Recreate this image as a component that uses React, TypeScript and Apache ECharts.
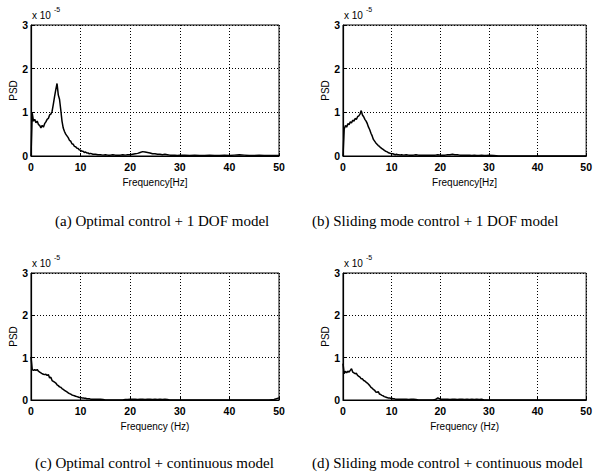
import React, { useEffect, useRef } from "react";
import * as echarts from "echarts";

// Frequency sample points (Hz): 0.25 Hz steps to 12, 0.5 Hz steps to 30, 1 Hz steps to 50
const freq: number[] = [
  0, 0.25, 0.5, 0.75, 1, 1.25, 1.5, 1.75, 2, 2.25, 2.5, 2.75, 3, 3.25, 3.5, 3.75,
  4, 4.25, 4.5, 4.75, 5, 5.25, 5.5, 5.75, 6, 6.25, 6.5, 6.75, 7, 7.25, 7.5, 7.75,
  8, 8.25, 8.5, 8.75, 9, 9.25, 9.5, 9.75, 10, 10.25, 10.5, 10.75, 11, 11.25, 11.5, 11.75, 12,
  12.5, 13, 13.5, 14, 14.5, 15, 15.5, 16, 16.5, 17, 17.5, 18, 18.5, 19, 19.5, 20,
  20.5, 21, 21.5, 22, 22.5, 23, 23.5, 24, 24.5, 25, 25.5, 26, 26.5, 27, 27.5, 28, 28.5, 29, 29.5, 30,
  31, 32, 33, 34, 35, 36, 37, 38, 39, 40, 41, 42, 43, 44, 45, 46, 47, 48, 49, 50,
];

// PSD values in units of 1e-5
const psdOptimal1DOF: number[] = [
  0, 0.98, 0.8, 0.84, 0.76, 0.8, 0.72, 0.7, 0.64, 0.7, 0.66, 0.74, 0.78, 0.84, 0.86, 0.94,
  0.96, 1.02, 1.18, 1.36, 1.52, 1.66, 1.4, 1.3, 1.06, 0.8, 0.64, 0.56, 0.5, 0.46, 0.42, 0.36,
  0.34, 0.28, 0.27, 0.22, 0.21, 0.18, 0.17, 0.14, 0.13, 0.11, 0.11, 0.08, 0.09, 0.07, 0.07, 0.05, 0.06,
  0.04, 0.04, 0.03, 0.03, 0.02, 0.03, 0.02, 0.02, 0.03, 0.02, 0.02, 0.02, 0.03, 0.02, 0.03, 0.03,
  0.04, 0.05, 0.06, 0.08, 0.1, 0.09, 0.08, 0.07, 0.05, 0.05, 0.04, 0.04, 0.03, 0.04, 0.03, 0.02, 0.02, 0.02, 0.01, 0.02,
  0.02, 0.01, 0.02, 0.01, 0.01, 0.02, 0.01, 0.01, 0.02, 0.01, 0.02, 0.03, 0.02, 0.01, 0.01, 0.02, 0.01, 0.01, 0.01, 0.01,
];

const psdSliding1DOF: number[] = [
  0, 0.62, 0.7, 0.66, 0.74, 0.72, 0.78, 0.76, 0.82, 0.8, 0.86, 0.84, 0.9, 0.92, 0.96, 1.04,
  0.94, 0.9, 0.84, 0.8, 0.74, 0.66, 0.6, 0.52, 0.46, 0.38, 0.34, 0.3, 0.27, 0.24, 0.22, 0.19,
  0.17, 0.15, 0.13, 0.11, 0.1, 0.08, 0.07, 0.06, 0.05, 0.05, 0.04, 0.03, 0.04, 0.03, 0.03, 0.02, 0.03,
  0.02, 0.03, 0.02, 0.02, 0.02, 0.03, 0.02, 0.02, 0.02, 0.02, 0.02, 0.02, 0.02, 0.02, 0.03, 0.02,
  0.02, 0.02, 0.03, 0.03, 0.04, 0.03, 0.03, 0.02, 0.02, 0.02, 0.02, 0.02, 0.01, 0.02, 0.01, 0.01, 0.02, 0.01, 0.01, 0.02,
  0.01, 0, 0, 0, 0, 0, 0, 0, 0, 0, 0, 0, 0, 0, 0, 0, 0, 0, 0, 0,
];

const psdOptimalCont: number[] = [
  1.02, 0.72, 0.7, 0.72, 0.7, 0.72, 0.68, 0.66, 0.64, 0.62, 0.61, 0.6, 0.61, 0.58, 0.6, 0.52,
  0.54, 0.46, 0.44, 0.42, 0.4, 0.36, 0.34, 0.31, 0.3, 0.27, 0.25, 0.23, 0.21, 0.19, 0.17, 0.15,
  0.14, 0.12, 0.11, 0.1, 0.09, 0.08, 0.07, 0.06, 0.06, 0.05, 0.05, 0.04, 0.04, 0.03, 0.03, 0.03, 0.02,
  0.02, 0.02, 0.02, 0.02, 0.01, 0, 0, 0, 0, 0, 0, 0, 0, 0.01, 0.01, 0.02,
  0.02, 0.02, 0.01, 0.02, 0.02, 0.01, 0.02, 0.02, 0.01, 0.02, 0.01, 0.02, 0.01, 0.02, 0.01, 0, 0, 0, 0, 0,
  0, 0, 0, 0, 0, 0, 0, 0, 0, 0, 0, 0, 0, 0, 0, 0, 0, 0, 0.01, 0.05,
];

const psdSlidingCont: number[] = [
  0.86, 0.62, 0.68, 0.64, 0.68, 0.66, 0.7, 0.74, 0.66, 0.64, 0.62, 0.63, 0.58, 0.56, 0.54, 0.5,
  0.5, 0.46, 0.45, 0.42, 0.4, 0.37, 0.34, 0.3, 0.28, 0.25, 0.23, 0.19, 0.18, 0.2, 0.14, 0.13,
  0.11, 0.1, 0.08, 0.07, 0.06, 0.05, 0.05, 0.04, 0.04, 0.03, 0.03, 0.02, 0.02, 0.02, 0.02, 0.02, 0.02,
  0.02, 0.02, 0.01, 0.02, 0.02, 0.01, 0, 0, 0, 0, 0, 0, 0, 0.01, 0.05, 0.02,
  0.02, 0.02, 0.02, 0.01, 0.02, 0.02, 0.01, 0.02, 0.02, 0.01, 0.02, 0.01, 0.02, 0.01, 0.02, 0.01, 0.02, 0, 0, 0,
  0, 0, 0, 0, 0, 0, 0, 0, 0, 0, 0, 0, 0, 0, 0, 0, 0, 0, 0, 0,
];

const panelSeries: number[][] = [psdOptimal1DOF, psdSliding1DOF, psdOptimalCont, psdSlidingCont];
const xAxisNames: string[] = ["Frequency[Hz]", "Frequency[Hz]", "Frequency (Hz)", "Frequency (Hz)"];
const yAxisName = "PSD";
const captions: string[] = [
  "(a) Optimal control + 1 DOF model",
  "(b) Sliding mode control + 1 DOF model",
  "(c) Optimal control + continuous model",
  "(d) Sliding mode control + continuous model",
];
const xTicks = { min: 0, max: 50, interval: 10 };
const yTicks = { min: 0, max: 3, interval: 1 };

export default function App() {
  const ref = useRef<HTMLDivElement>(null);
  useEffect(() => {
    document.body.style.margin = "0";
    if (!ref.current) return;
    const chart = echarts.init(ref.current, undefined, { renderer: "svg" });

    const grids = [
      { left: 31, top: 25, width: 248, height: 131 },
      { left: 343, top: 25, width: 247, height: 131 },
      { left: 31, top: 273, width: 248, height: 127 },
      { left: 343, top: 273, width: 248, height: 127 },
    ];
    const captionPos = [
      { x: 55, y: 221 },
      { x: 312, y: 221 },
      { x: 35, y: 463 },
      { x: 312, y: 463 },
    ];
    const sans = "Liberation Sans";

    const option: any = {
      animation: false,
      backgroundColor: "#fff",
      grid: grids.map((g) => ({
        ...g,
        show: true,
        borderColor: "#000",
        borderWidth: 1,
        backgroundColor: "transparent",
        containLabel: false,
      })),
      xAxis: grids.map((_, i) => ({
        type: "value",
        gridIndex: i,
        min: xTicks.min,
        max: xTicks.max,
        interval: xTicks.interval,
        name: xAxisNames[i],
        nameLocation: "middle",
        nameGap: 21,
        nameTextStyle: { color: "#000", fontSize: 10, fontFamily: sans },
        axisLine: { show: true, onZero: false, lineStyle: { color: "#000", width: 1.2 } },
        axisTick: { show: true, inside: true, length: 3, lineStyle: { color: "#000" } },
        axisLabel: { color: "#000", fontSize: 10.5, fontWeight: "bold", fontFamily: sans, margin: 5 },
        splitLine: { show: true, lineStyle: { color: "#000", type: [1, 2], width: 1 } },
      })),
      yAxis: grids.map((_, i) => ({
        type: "value",
        gridIndex: i,
        min: yTicks.min,
        max: yTicks.max,
        interval: yTicks.interval,
        name: yAxisName,
        nameLocation: "middle",
        nameGap: 13,
        nameRotate: 90,
        nameTextStyle: { color: "#000", fontSize: 10, fontFamily: sans },
        axisLine: { show: true, onZero: false, lineStyle: { color: "#000", width: 1.2 } },
        axisTick: { show: true, inside: true, length: 3, lineStyle: { color: "#000" } },
        axisLabel: { color: "#000", fontSize: 10.5, fontWeight: "bold", fontFamily: sans, margin: 3 },
        splitLine: { show: true, lineStyle: { color: "#000", type: [1, 2], width: 1 } },
      })),
      series: panelSeries.map((vals, i) => ({
        type: "line",
        xAxisIndex: i,
        yAxisIndex: i,
        showSymbol: false,
        symbol: "none",
        lineStyle: { color: "#000", width: 1.5 },
        data: vals.map((v, k) => [freq[k], v]),
      })),
      graphic: [
        ...grids.flatMap((g) => [
          {
            type: "text",
            left: g.left + 1,
            top: g.top - 15,
            style: { text: "x 10", fontSize: 10, fontFamily: sans, fill: "#000" },
          },
          {
            type: "text",
            left: g.left + 23,
            top: g.top - 19,
            style: { text: "-5", fontSize: 7, fontFamily: sans, fill: "#000" },
          },
        ]),
        ...captions.map((c, i) => ({
          type: "text",
          x: captionPos[i].x,
          y: captionPos[i].y,
          style: {
            text: c,
            fontSize: 15,
            fontFamily: "Liberation Serif",
            fill: "#000",
            textAlign: "left",
            textVerticalAlign: "middle",
          },
        })),
      ],
    };
    chart.setOption(option);
    return () => chart.dispose();
  }, []);
  return <div ref={ref} style={{ width: 595, height: 476 }} />;
}
